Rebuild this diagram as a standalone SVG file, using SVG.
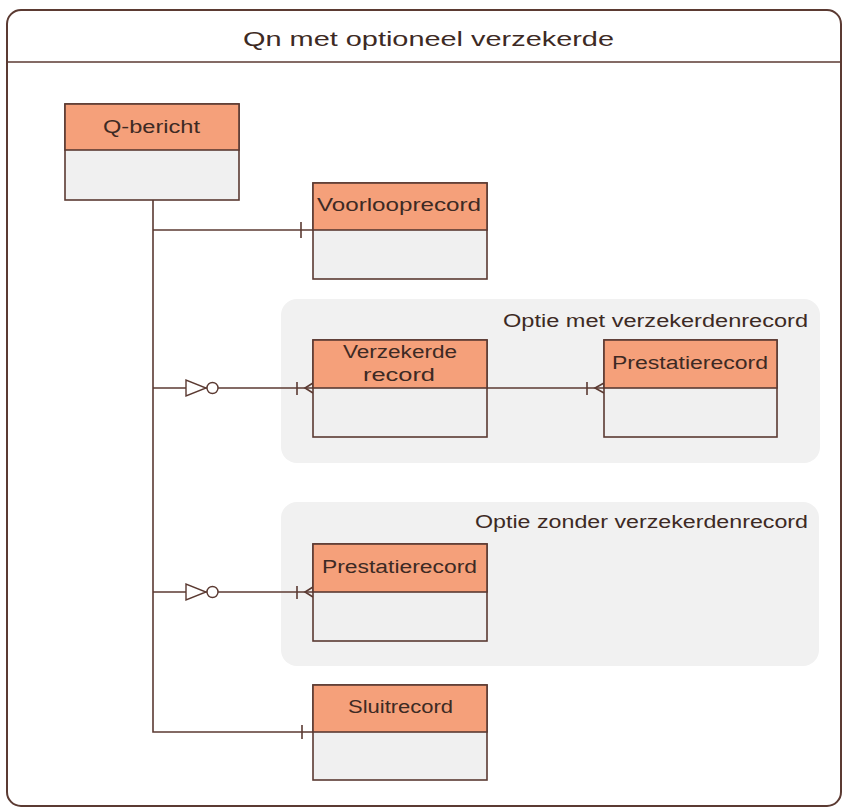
<svg xmlns="http://www.w3.org/2000/svg" width="844" height="808" viewBox="0 0 844 808">
<style>
.frame{fill:#ffffff;stroke:#5b3a32;stroke-width:2}
.grp{fill:#f1f1f1;stroke:none}
.hdr{fill:#f5a07a;stroke:#5b3a32;stroke-width:1.6}
.body{fill:#f0f0f0;stroke:#5b3a32;stroke-width:1.6}
.ln{fill:none;stroke:#5b3a32;stroke-width:1.6}
.sym{fill:#ffffff;stroke:#5b3a32;stroke-width:1.4}
text{font-family:"Liberation Sans",Arial,sans-serif;fill:#3d2a24}
.t{font-size:18px}
.ti{font-size:21px}
.g{font-size:18px}
</style>
<g id="frame">
<rect class="frame" x="7" y="10" width="834" height="796" rx="14"/>
<line class="ln" x1="7" y1="62" x2="841" y2="62" stroke-width="2"/>
<text class="ti" x="243" y="46" textLength="371" lengthAdjust="spacingAndGlyphs">Qn met optioneel verzekerde</text>
</g>
<g id="group-met">
<rect class="grp" x="281" y="299" width="539" height="164" rx="16"/>
<text class="g" x="503" y="327" textLength="305" lengthAdjust="spacingAndGlyphs">Optie met verzekerdenrecord</text>
</g>
<g id="group-zonder">
<rect class="grp" x="281" y="502" width="538" height="164" rx="16"/>
<text class="g" x="475" y="528" textLength="333" lengthAdjust="spacingAndGlyphs">Optie zonder verzekerdenrecord</text>
</g>
<g id="connectors">
<polyline class="ln" points="153,200 153,732 313,732"/>
<line class="ln" x1="153" y1="230" x2="313" y2="230"/>
<line class="ln" x1="301" y1="222" x2="301" y2="238"/>
<line class="ln" x1="302" y1="725" x2="302" y2="739"/>
<line class="ln" x1="153" y1="388" x2="313" y2="388"/>
<polygon class="sym" points="186,380 186,396 206,388"/>
<circle class="sym" cx="212.5" cy="388" r="5.5"/>
<line class="ln" x1="297" y1="382" x2="297" y2="395"/>
<polyline class="ln" points="313,383 305,388 313,393"/>
<line class="ln" x1="153" y1="592" x2="313" y2="592"/>
<polygon class="sym" points="186,584 186,600 206,592"/>
<circle class="sym" cx="212.5" cy="592" r="5.5"/>
<line class="ln" x1="297" y1="586" x2="297" y2="599"/>
<polyline class="ln" points="313,587 305,592 313,597"/>
<line class="ln" x1="487" y1="388" x2="604" y2="388"/>
<line class="ln" x1="587" y1="382" x2="587" y2="395"/>
<polyline class="ln" points="604,383 595,388 604,393"/>
</g>
<g id="q-bericht">
<rect class="body" x="65" y="104" width="174" height="96"/>
<rect class="hdr" x="65" y="104" width="174" height="46"/>
<text class="t" x="103" y="133" textLength="97" lengthAdjust="spacingAndGlyphs">Q-bericht</text>
</g>
<g id="voorlooprecord">
<rect class="body" x="313" y="183" width="174" height="96"/>
<rect class="hdr" x="313" y="183" width="174" height="47"/>
<text class="t" x="317" y="211" textLength="164" lengthAdjust="spacingAndGlyphs">Voorlooprecord</text>
</g>
<g id="verzekerde-record">
<rect class="body" x="313" y="340" width="174" height="97"/>
<rect class="hdr" x="313" y="340" width="174" height="48"/>
<text class="t" x="343" y="358" textLength="114" lengthAdjust="spacingAndGlyphs">Verzekerde</text>
<text class="t" x="363" y="381" textLength="72" lengthAdjust="spacingAndGlyphs">record</text>
</g>
<g id="prestatierecord-1">
<rect class="body" x="604" y="340" width="173" height="97"/>
<rect class="hdr" x="604" y="340" width="173" height="48"/>
<text class="t" x="612" y="369" textLength="156" lengthAdjust="spacingAndGlyphs">Prestatierecord</text>
</g>
<g id="prestatierecord-2">
<rect class="body" x="313" y="544" width="174" height="97"/>
<rect class="hdr" x="313" y="544" width="174" height="48"/>
<text class="t" x="322" y="573" textLength="155" lengthAdjust="spacingAndGlyphs">Prestatierecord</text>
</g>
<g id="sluitrecord">
<rect class="body" x="313" y="685" width="174" height="95"/>
<rect class="hdr" x="313" y="685" width="174" height="47"/>
<text class="t" x="348" y="713" textLength="105" lengthAdjust="spacingAndGlyphs">Sluitrecord</text>
</g>
</svg>
